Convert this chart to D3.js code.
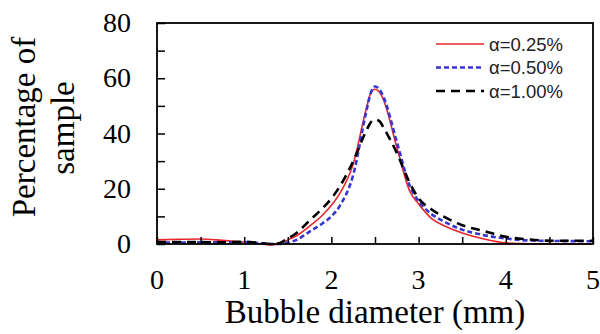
<!DOCTYPE html>
<html>
<head>
<meta charset="utf-8">
<script src="https://cdn.jsdelivr.net/npm/d3@7"></script>
<style>
  body { margin: 0; background: #fff; }
  svg { display: block; }
</style>
</head>
<body>
<svg></svg>
<script>
// bubble diameter (mm) sample points
const diam = [0, 0.25, 0.5, 0.75, 1.0, 1.15, 1.3, 1.4, 1.5, 1.6, 1.75, 1.9, 2.0, 2.1, 2.25, 2.4, 2.45, 2.5, 2.55, 2.6, 2.75, 2.9, 3.0, 3.15, 3.3, 3.5, 3.75, 4.0, 4.25, 4.5, 5.0];
// percentage of sample for each alpha
const pct025 = [1.5, 1.7, 1.8, 1.3, 0.7, 0.3, -0.3, 0, 1.5, 3, 6.5, 10.5, 14, 18.5, 29, 49, 54.5, 56, 55, 52, 35, 19, 14.5, 9.2, 6.5, 4, 1.8, 0.4, 0.1, 0, 0];
const pct050 = [0.5, 0.5, 0.6, 0.6, 0.6, 0.4, 0, 0, 0.5, 1.5, 4.5, 7.5, 10, 14, 25, 48, 54.5, 57, 56, 53, 37, 21, 15.5, 10.8, 8, 5.2, 3.2, 2, 1.3, 1.1, 1.0];
const pct100 = [0.7, 0.7, 0.7, 0.6, 0.8, 0.5, 0, 0.3, 2, 4, 8.5, 13, 16.5, 21, 30, 41, 44, 45, 44.5, 42, 33, 22, 16.5, 12.5, 9.7, 6.8, 4.7, 2.6, 1.7, 1.2, 1.2];
const seriesNames = ['α=0.25%', 'α=0.50%', 'α=1.00%'];
const xTicks = [0, 1, 2, 3, 4, 5];
const yTicks = [0, 20, 40, 60, 80];

const size = {w: 600, h: 334};
const margin = {t: 23, r: 7, b: 90, l: 157};
const svg = d3.select('svg').attr('width', size.w).attr('height', size.h);

const x = d3.scaleLinear().domain([0, 5]).range([margin.l, size.w - margin.r]);
const y = d3.scaleLinear().domain([0, 80]).range([size.h - margin.b, margin.t]);

const styles = [
    {color: '#e8262b', width: 1.6, dash: null},
    {color: '#3535d0', width: 2.6, dash: '5,3'},
    {color: '#000', width: 2.6, dash: '9,6'}
];
const series = [pct025, pct050, pct100].map((vals, i) => ({
    name: seriesNames[i],
    style: styles[i],
    points: vals.map((v, j) => [diam[j], v])
}));

// curves
const line = d3.line()
    .x(d => x(d[0]))
    .y(d => y(d[1]))
    .curve(d3.curveMonotoneX);

svg.append('g')
    .attr('fill', 'none')
    .selectAll('path')
    .data(series)
    .join('path')
    .attr('stroke', d => d.style.color)
    .attr('stroke-width', d => d.style.width)
    .attr('stroke-dasharray', d => d.style.dash)
    .attr('d', d => line(d.points));

// axes, ticks inside
const xAxis = d3.axisBottom(x).tickValues(d3.range(0, 5.01, 0.5)).tickSize(-7).tickFormat('');
const yAxis = d3.axisLeft(y).tickValues(d3.range(0, 81, 10)).tickSize(-8).tickFormat('');

svg.append('g')
    .attr('transform', `translate(0,${y(0)})`)
    .call(xAxis)
    .call(g => g.selectAll('line').attr('stroke-width', 1.5));
svg.append('g')
    .attr('transform', `translate(${x(0)},0)`)
    .call(yAxis)
    .call(g => g.selectAll('line').attr('stroke-width', 1.5));
svg.selectAll('.domain').remove();

// frame
svg.append('rect')
    .attr('x', x(0)).attr('y', y(80))
    .attr('width', x(5) - x(0)).attr('height', y(0) - y(80))
    .attr('fill', 'none').attr('stroke', '#000').attr('stroke-width', 1.8);

// tick labels
const serif = '"Liberation Serif", "Times New Roman", serif';
svg.append('g')
    .attr('font-family', serif).attr('font-size', 28).attr('text-anchor', 'middle')
    .selectAll('text').data(xTicks).join('text')
    .attr('x', d => x(d)).attr('y', y(0) + 45)
    .text(d => d);
svg.append('g')
    .attr('font-family', serif).attr('font-size', 28).attr('text-anchor', 'end')
    .selectAll('text').data(yTicks).join('text')
    .attr('x', x(0) - 26).attr('y', d => y(d) + 9)
    .text(d => d);

// axis titles
svg.append('text')
    .attr('font-family', serif).attr('font-size', 33).attr('text-anchor', 'middle')
    .attr('x', (x(0) + x(5)) / 2).attr('y', 323)
    .text('Bubble diameter (mm)');
const yTitle = svg.append('g')
    .attr('font-family', serif).attr('font-size', 33).attr('text-anchor', 'middle');
yTitle.append('text')
    .attr('transform', `translate(35,127) rotate(-90)`)
    .text('Percentage of');
yTitle.append('text')
    .attr('transform', `translate(74,128) rotate(-90)`)
    .text('sample');

// legend
const legend = svg.append('g')
    .attr('font-family', '"Liberation Sans", Arial, sans-serif').attr('font-size', 18.5)
    .selectAll('g').data(series).join('g')
    .attr('transform', (d, i) => `translate(436,${44 + i * 23.5})`);
legend.append('line')
    .attr('x1', 0).attr('x2', 48)
    .attr('stroke', d => d.style.color)
    .attr('stroke-width', d => d.style.width)
    .attr('stroke-dasharray', d => d.style.dash);
legend.append('text')
    .attr('x', 53).attr('y', 6.5)
    .attr('fill', '#222')
    .text(d => d.name);
</script>
</body>
</html>
